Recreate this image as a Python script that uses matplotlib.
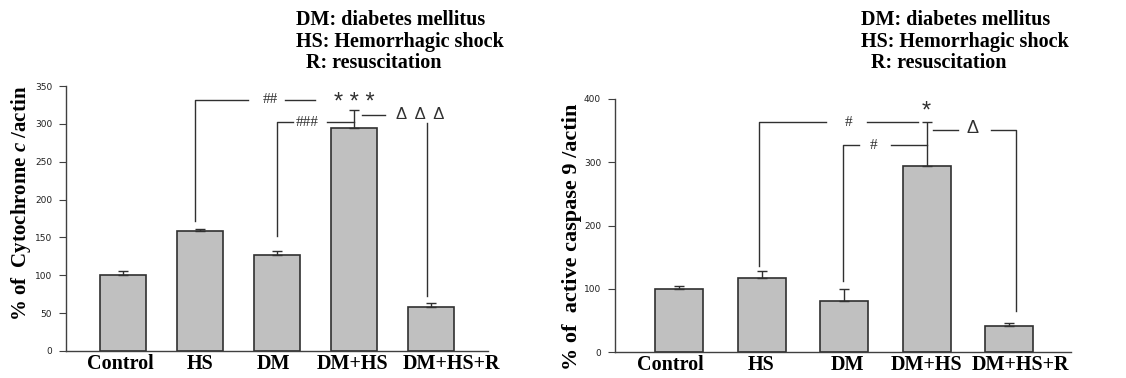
import matplotlib
matplotlib.use("Agg")
import matplotlib.pyplot as plt
import matplotlib.transforms as mtransforms
import numpy as np

plt.rcParams['mathtext.fontset'] = 'custom'
plt.rcParams['mathtext.bfit'] = 'Liberation Serif:bold:italic'
plt.rcParams['mathtext.bf'] = 'Liberation Serif:bold'
plt.rcParams['mathtext.rm'] = 'Liberation Serif:bold'

categories = ["Control", "HS", "DM", "DM+HS", "DM+HS+R"]

cyto_values = [100, 158, 127, 295, 58.5]
cyto_err = [6, 3.5, 4.5, 23, 4.5]

casp_values = [100, 116.5, 81, 294, 41.5]
casp_err = [5, 11, 19, 70, 4]

cyto_ticks = [0, 50, 100, 150, 200, 250, 300, 350]
casp_ticks = [0, 100, 200, 300, 400]

legend_lines = ["DM: diabetes mellitus", "HS: Hemorrhagic shock", "  R: resuscitation"]

BAR_FILL = "#c0c0c0"
EDGE = "#303030"
SERIF = "Liberation Serif"
SANS = "Liberation Sans"

fig = plt.figure(figsize=(11.26, 3.78), dpi=100)

axL = fig.add_axes([66/1126, 27/378, 422/1126, 265/378])
axR = fig.add_axes([615/1126, 26/378, 456/1126, 253/378])


def style(ax, ticks, ylim, xlim, label_shift_px):
    ax.set_ylim(*ylim)
    ax.set_xlim(*xlim)
    ax.set_yticks(ticks)
    ax.set_yticklabels([str(t) for t in ticks], fontfamily="DejaVu Sans", fontsize=6.5,
                       color="#202020")
    for s in ["top", "right"]:
        ax.spines[s].set_visible(False)
    for s in ["left", "bottom"]:
        ax.spines[s].set_color("#404040")
        ax.spines[s].set_linewidth(1.0)
    ax.tick_params(axis="y", length=5, width=0.8, color="#404040", pad=5)
    ax.tick_params(axis="x", length=0, pad=2.5)
    ax.set_xticks(range(len(categories)))
    ax.set_xticklabels(categories, fontfamily=SERIF, fontweight="bold", fontsize=14.5)
    for lab, dx in zip(ax.get_xticklabels(), label_shift_px):
        lab.set_transform(lab.get_transform() +
                          mtransforms.ScaledTranslation(dx / 100, 0, fig.dpi_scale_trans))


def bars(ax, vals, errs, width):
    x = np.arange(len(vals))
    ax.bar(x, vals, width=width, color=BAR_FILL, edgecolor=EDGE, linewidth=1.2, zorder=2)
    ax.errorbar(x, vals, yerr=[np.zeros(len(errs)), errs], fmt="none",
                ecolor=EDGE, elinewidth=1.0, capsize=3.6, capthick=1.0, zorder=3)


LC = "#303030"
LW = 1.0

# ---- Left chart ----
bars(axL, cyto_values, cyto_err, 0.6)
style(axL, cyto_ticks, (0, 350), (-0.74, 4.74), [-3, 0, -4, -2, 20])

axL.plot([0.935, 0.935, 1.62], [172, 332, 332], color=LC, lw=LW, clip_on=False)
axL.text(1.91, 332, "##", ha="center", va="center", fontfamily=SERIF, fontsize=11, color="#303030")
axL.plot([2.10, 2.49], [332, 332], color=LC, lw=LW, clip_on=False)
axL.text(3.0, 328, "* * *", ha="center", va="center", fontfamily=SANS, fontsize=17, color="#303030")
axL.plot([2.0, 2.0, 2.21], [152, 302, 302], color=LC, lw=LW, clip_on=False)
axL.text(2.39, 302, "###", ha="center", va="center", fontfamily=SERIF, fontsize=11, color="#303030")
axL.plot([2.65, 3.0], [302, 302], color=LC, lw=LW, clip_on=False)
axL.plot([3.10, 3.40], [312, 312], color=LC, lw=LW, clip_on=False)
axL.text(3.86, 313, "Δ  Δ  Δ", ha="center", va="center", fontfamily=SANS, fontsize=12, color="#303030")
axL.plot([3.95, 3.95], [301, 73], color=LC, lw=LW, clip_on=False)

# ---- Right chart ----
bars(axR, casp_values, casp_err, 0.58)
style(axR, casp_ticks, (0, 400), (-0.78, 4.75), [-9, -1, 3, 0, 11])

axR.plot([0.97, 0.97, 1.78], [136, 363, 363], color=LC, lw=LW, clip_on=False)
axR.text(2.05, 363, "#", ha="center", va="center", fontfamily=SERIF, fontsize=11, color="#303030")
axR.plot([2.27, 2.90], [363, 363], color=LC, lw=LW, clip_on=False)
axR.text(3.0, 380, "*", ha="center", va="center", fontfamily=SANS, fontsize=17, color="#303030")
axR.plot([1.98, 1.98, 2.18], [113, 327, 327], color=LC, lw=LW, clip_on=False)
axR.text(2.35, 327, "#", ha="center", va="center", fontfamily=SERIF, fontsize=11, color="#303030")
axR.plot([2.57, 3.0], [327, 327], color=LC, lw=LW, clip_on=False)
axR.plot([3.08, 3.38], [351, 351], color=LC, lw=LW, clip_on=False)
axR.text(3.55, 353, "Δ", ha="center", va="center", fontfamily=SANS, fontsize=13, color="#303030")
axR.plot([3.78, 4.08, 4.08], [351, 351, 65], color=LC, lw=LW, clip_on=False)

# ---- legend texts ----
ys = [20, 42, 63]
for x0 in (296, 861):
    for line, yy in zip(legend_lines, ys):
        fig.text(x0/1126, 1 - yy/378, line, ha="left", va="center",
                 fontfamily=SERIF, fontweight="bold", fontsize=14.5)

# ---- y labels ----
fig.text(21/1126, 1 - 203/378, r"% of  Cytochrome $\mathbfit{c}$ /actin", rotation=90,
         ha="center", va="center", fontfamily=SERIF, fontweight="bold", fontsize=15)
fig.text(572/1126, 1 - 237/378, "% of  active caspase 9 /actin", rotation=90,
         ha="center", va="center", fontfamily=SERIF, fontweight="bold", fontsize=16)

fig.savefig("out.png", dpi=100)
